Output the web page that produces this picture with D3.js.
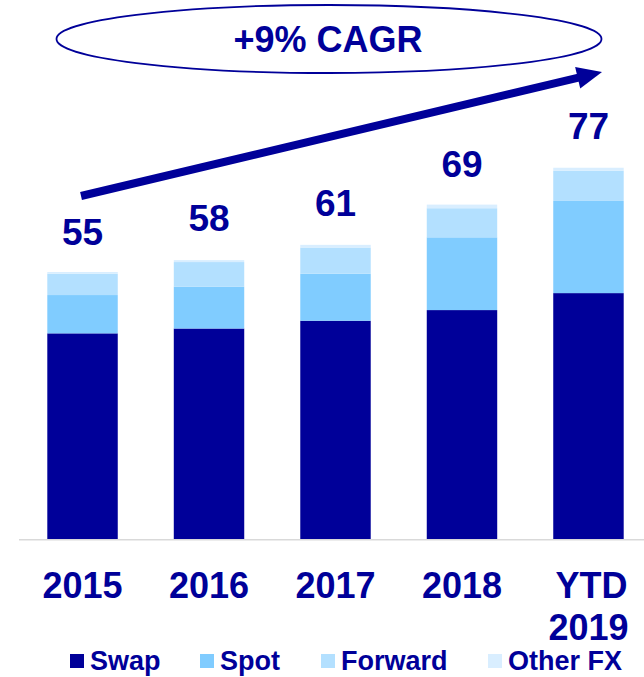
<!DOCTYPE html>
<html>
<head>
<meta charset="utf-8">
<script src="https://cdn.jsdelivr.net/npm/d3@7"></script>
<style>
  body { margin: 0; background: #fff; }
  text { font-family: "Liberation Sans", Arial, sans-serif; font-weight: bold; fill: #000099; }
</style>
</head>
<body>
<script>
var width = 644, height = 677;
var navy = '#000099';

// data
var years = ['2015', '2016', '2017', '2018', 'YTD 2019'];
var swap    = [42.4, 43.4, 45.0, 47.2, 50.7];
var spot    = [7.9, 8.6, 9.7, 15.0, 19.0];
var forward = [4.4, 5.1, 5.4, 6.0, 6.25];
var otherFx = [0.35, 0.4, 0.55, 0.75, 0.6];
var totals  = [55, 58, 61, 69, 77];
var seriesNames = ['Swap', 'Spot', 'Forward', 'Other FX'];
var seriesColors = [navy, '#80CCFF', '#B3E0FF', '#D9EEFF'];
var cagrText = '+9% CAGR';

var table = years.map(function (y, i) {
  return { year: y, 'Swap': swap[i], 'Spot': spot[i], 'Forward': forward[i], 'Other FX': otherFx[i] };
});

var svg = d3.select('body')
  .append('svg')
  .attr('width', width)
  .attr('height', height);

// Scale
var xscale = d3.scaleBand().domain(years).range([47.3, 623.7]).paddingInner(0.443).paddingOuter(0);
var yscale = d3.scaleLinear().domain([0, 80]).range([539, 151]);
var colorScale = d3.scaleOrdinal().domain(seriesNames).range(seriesColors);

var stacked = d3.stack().keys(seriesNames)(table);

svg.append('g')
  .selectAll('g')
  .data(stacked)
  .enter()
  .append('g')
  .attr('fill', function (d) { return colorScale(d.key); })
  .selectAll('rect')
  .data(function (d) { return d; })
  .enter()
  .append('rect')
  .attr('x', function (d) { return xscale(d.data.year); })
  .attr('width', xscale.bandwidth())
  .attr('y', function (d) { return yscale(d[1]); })
  .attr('height', function (d) { return yscale(d[0]) - yscale(d[1]); });

// baseline
svg.append('line')
  .attr('x1', 19).attr('x2', width)
  .attr('y1', yscale(0) + 0.75).attr('y2', yscale(0) + 0.75)
  .attr('stroke', '#d9d9d9')
  .attr('stroke-width', 1.5);

// x axis labels
svg.append('g')
  .selectAll('text')
  .data(years)
  .enter()
  .append('text')
  .attr('x', function (d) { return xscale(d) + xscale.bandwidth() / 2; })
  .attr('y', 598)
  .attr('text-anchor', 'middle')
  .style('font-size', '36px')
  .each(function (d) {
    var parts = d.split(' ');
    var t = d3.select(this);
    parts.forEach(function (p, j) {
      t.append('tspan')
        .attr('x', xscale(d) + xscale.bandwidth() / 2 + (parts.length > 1 && j == 0 ? 3 : 0))
        .attr('dy', j == 0 ? 0 : 42)
        .text(p);
    });
  });

// totals above bars
svg.append('g')
  .selectAll('text')
  .data(totals)
  .enter()
  .append('text')
  .attr('x', function (d, i) { return xscale(years[i]) + xscale.bandwidth() / 2; })
  .attr('y', function (d) { return yscale(d) - 27; })
  .attr('text-anchor', 'middle')
  .style('font-size', '37px')
  .text(function (d) { return d; });

// CAGR ellipse
svg.append('ellipse')
  .attr('cx', 329).attr('cy', 39)
  .attr('rx', 272.5).attr('ry', 34)
  .attr('fill', 'none')
  .attr('stroke', navy)
  .attr('stroke-width', 1.8);
svg.append('text')
  .attr('x', 328).attr('y', 52)
  .attr('text-anchor', 'middle')
  .style('font-size', '36px')
  .text(cagrText);

// growth arrow
var tail = [xscale(years[0]) + xscale.bandwidth() / 2 - 1.5, 196], tip = [602, 72];
var dx = tip[0] - tail[0], dy = tip[1] - tail[1], len = Math.sqrt(dx * dx + dy * dy);
var ux = dx / len, uy = dy / len, nx = -uy, ny = ux;
var back = [tip[0] - 25 * ux, tip[1] - 25 * uy];
svg.append('line')
  .attr('x1', tail[0]).attr('y1', tail[1])
  .attr('x2', back[0] + 2 * ux).attr('y2', back[1] + 2 * uy)
  .attr('stroke', navy)
  .attr('stroke-width', 8);
svg.append('polygon')
  .attr('points', [tip, [back[0] + 11 * nx, back[1] + 11 * ny], [back[0] - 11 * nx, back[1] - 11 * ny]].map(function (p) { return p.join(','); }).join(' '))
  .attr('fill', navy);

// legend
var legendX = [70, 200, 321, 488];
var legend = svg.append('g')
  .selectAll('g')
  .data(seriesNames)
  .enter()
  .append('g')
  .attr('transform', function (d, i) { return 'translate(' + legendX[i] + ',0)'; });
legend.append('rect')
  .attr('x', 0).attr('y', 654)
  .attr('width', 14).attr('height', 14)
  .attr('fill', function (d) { return colorScale(d); });
legend.append('text')
  .attr('x', 20).attr('y', 670)
  .style('font-size', '27px')
  .text(function (d) { return d; });
</script>
</body>
</html>
